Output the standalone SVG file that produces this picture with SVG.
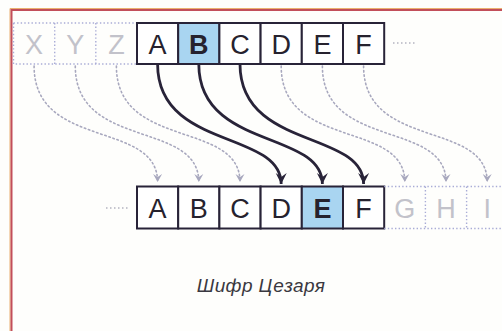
<svg xmlns="http://www.w3.org/2000/svg" width="502" height="331" viewBox="0 0 502 331">
  <defs>
    <style>
      .cell { fill: #ffffff; stroke: #282338; stroke-width: 2; }
      .hl { fill: #a9d5f1; }
      .ghost { fill: none; stroke: #a9acd6; stroke-width: 1.4; stroke-dasharray: 1.4 2.2; }
      .ltr { font-family: "Liberation Sans", Arial, sans-serif; font-size: 27px; fill: #26222e; text-anchor: middle; }
      .bold { font-weight: bold; }
      .gl { font-family: "Liberation Sans", Arial, sans-serif; font-size: 27px; fill: #c2c2ca; text-anchor: middle; }
      .link { fill: none; stroke: #282338; stroke-width: 2.8; }
      .dlink { fill: none; stroke: #a8a8be; stroke-width: 1.6; stroke-dasharray: 1.5 2.8; stroke-linecap: round; }
      .ell { fill: none; stroke: #b4b4c0; stroke-width: 1.6; stroke-dasharray: 1.5 2.5; }
      .cap { font-family: "Liberation Sans", Arial, sans-serif; font-style: italic; font-size: 19px; letter-spacing: 0.4px; fill: #3a3840; text-anchor: middle; }
    </style>
    <marker id="head" markerUnits="userSpaceOnUse" markerWidth="14" markerHeight="14" refX="12" refY="7" orient="auto" overflow="visible">
      <path d="M12,7 L1,1.5 L5,7 L1,12.5 Z" fill="#282338"/>
    </marker>
    <marker id="dhead" markerUnits="userSpaceOnUse" markerWidth="10" markerHeight="10" refX="9" refY="5" orient="auto" overflow="visible">
      <path d="M9,5 L1,0.5 L4,5 L1,9.5 Z" fill="#a8a8be"/>
    </marker>
  </defs>

  <rect x="0" y="0" width="502" height="331" fill="#fefefc"/>

  <!-- frame -->
  <path d="M10,331 V8.5 H502" fill="none" stroke="#eab070" stroke-width="1"/>
  <path d="M11.5,331 V10 H502" fill="none" stroke="#c24e5a" stroke-width="2"/>

  <!-- top alphabet row -->
  <g id="top-ghost">
    <rect class="ghost" x="13.5" y="23" width="123.5" height="41"/>
    <line class="ghost" x1="54.7" y1="23" x2="54.7" y2="64"/>
    <line class="ghost" x1="95.8" y1="23" x2="95.8" y2="64"/>
    <text class="gl" x="34.1" y="53.5">X</text>
    <text class="gl" x="75.3" y="53.5">Y</text>
    <text class="gl" x="116.4" y="53.5">Z</text>
  </g>
  <g id="top-A"><rect class="cell" x="137" y="23" width="41.2" height="41"/><text class="ltr" x="157.6" y="53.5">A</text></g>
  <g id="top-B"><rect class="cell hl" x="178.2" y="23" width="41.2" height="41"/><text class="ltr bold" x="198.8" y="53.5">B</text></g>
  <g id="top-C"><rect class="cell" x="219.4" y="23" width="41.2" height="41"/><text class="ltr" x="240" y="53.5">C</text></g>
  <g id="top-D"><rect class="cell" x="260.6" y="23" width="41.2" height="41"/><text class="ltr" x="281.2" y="53.5">D</text></g>
  <g id="top-E"><rect class="cell" x="301.8" y="23" width="41.2" height="41"/><text class="ltr" x="322.4" y="53.5">E</text></g>
  <g id="top-F"><rect class="cell" x="343" y="23" width="41.2" height="41"/><text class="ltr" x="363.6" y="53.5">F</text></g>
  <g id="top-more"><line class="ell" x1="393" y1="43" x2="416" y2="43"/></g>

  <!-- bottom alphabet row -->
  <g id="bot-more"><line class="ell" x1="106" y1="208" x2="128" y2="208"/></g>
  <g id="bot-A"><rect class="cell" x="137" y="186.5" width="41.2" height="42"/><text class="ltr" x="157.6" y="218">A</text></g>
  <g id="bot-B"><rect class="cell" x="178.2" y="186.5" width="41.2" height="42"/><text class="ltr" x="198.8" y="218">B</text></g>
  <g id="bot-C"><rect class="cell" x="219.4" y="186.5" width="41.2" height="42"/><text class="ltr" x="240" y="218">C</text></g>
  <g id="bot-D"><rect class="cell" x="260.6" y="186.5" width="41.2" height="42"/><text class="ltr" x="281.2" y="218">D</text></g>
  <g id="bot-E"><rect class="cell hl" x="301.8" y="186.5" width="41.2" height="42"/><text class="ltr bold" x="322.4" y="218">E</text></g>
  <g id="bot-F"><rect class="cell" x="343" y="186.5" width="41.2" height="42"/><text class="ltr" x="363.6" y="218">F</text></g>
  <g id="bot-ghost">
    <path class="ghost" d="M384.2,186.5 H502 M384.2,228.5 H502"/>
    <line class="ghost" x1="425.4" y1="186.5" x2="425.4" y2="228.5"/>
    <line class="ghost" x1="466.6" y1="186.5" x2="466.6" y2="228.5"/>
    <text class="gl" x="404.8" y="218">G</text>
    <text class="gl" x="446" y="218">H</text>
    <text class="gl" x="487.2" y="218">I</text>
  </g>

  <!-- shift connectors -->
  <g id="connectors">
    <path class="dlink" d="M34.1,66 C34.1,150 157.6,120 157.6,182" marker-end="url(#dhead)"/>
    <path class="dlink" d="M75.3,66 C75.3,150 198.8,120 198.8,182" marker-end="url(#dhead)"/>
    <path class="dlink" d="M116.4,66 C116.4,150 240,120 240,182" marker-end="url(#dhead)"/>
    <path class="dlink" d="M281.2,66 C281.2,150 404.8,120 404.8,182" marker-end="url(#dhead)"/>
    <path class="dlink" d="M322.4,66 C322.4,150 446,120 446,182" marker-end="url(#dhead)"/>
    <path class="dlink" d="M363.6,66 C363.6,150 487.2,120 487.2,182" marker-end="url(#dhead)"/>
    <path class="link" d="M157.6,64 C157.6,150 281.2,130 281.2,184" marker-end="url(#head)"/>
    <path class="link" d="M198.8,64 C198.8,150 322.4,130 322.4,184" marker-end="url(#head)"/>
    <path class="link" d="M240,64 C240,150 363.6,130 363.6,184" marker-end="url(#head)"/>
  </g>

  <text class="cap" x="261" y="292">Шифр Цезаря</text>
</svg>
